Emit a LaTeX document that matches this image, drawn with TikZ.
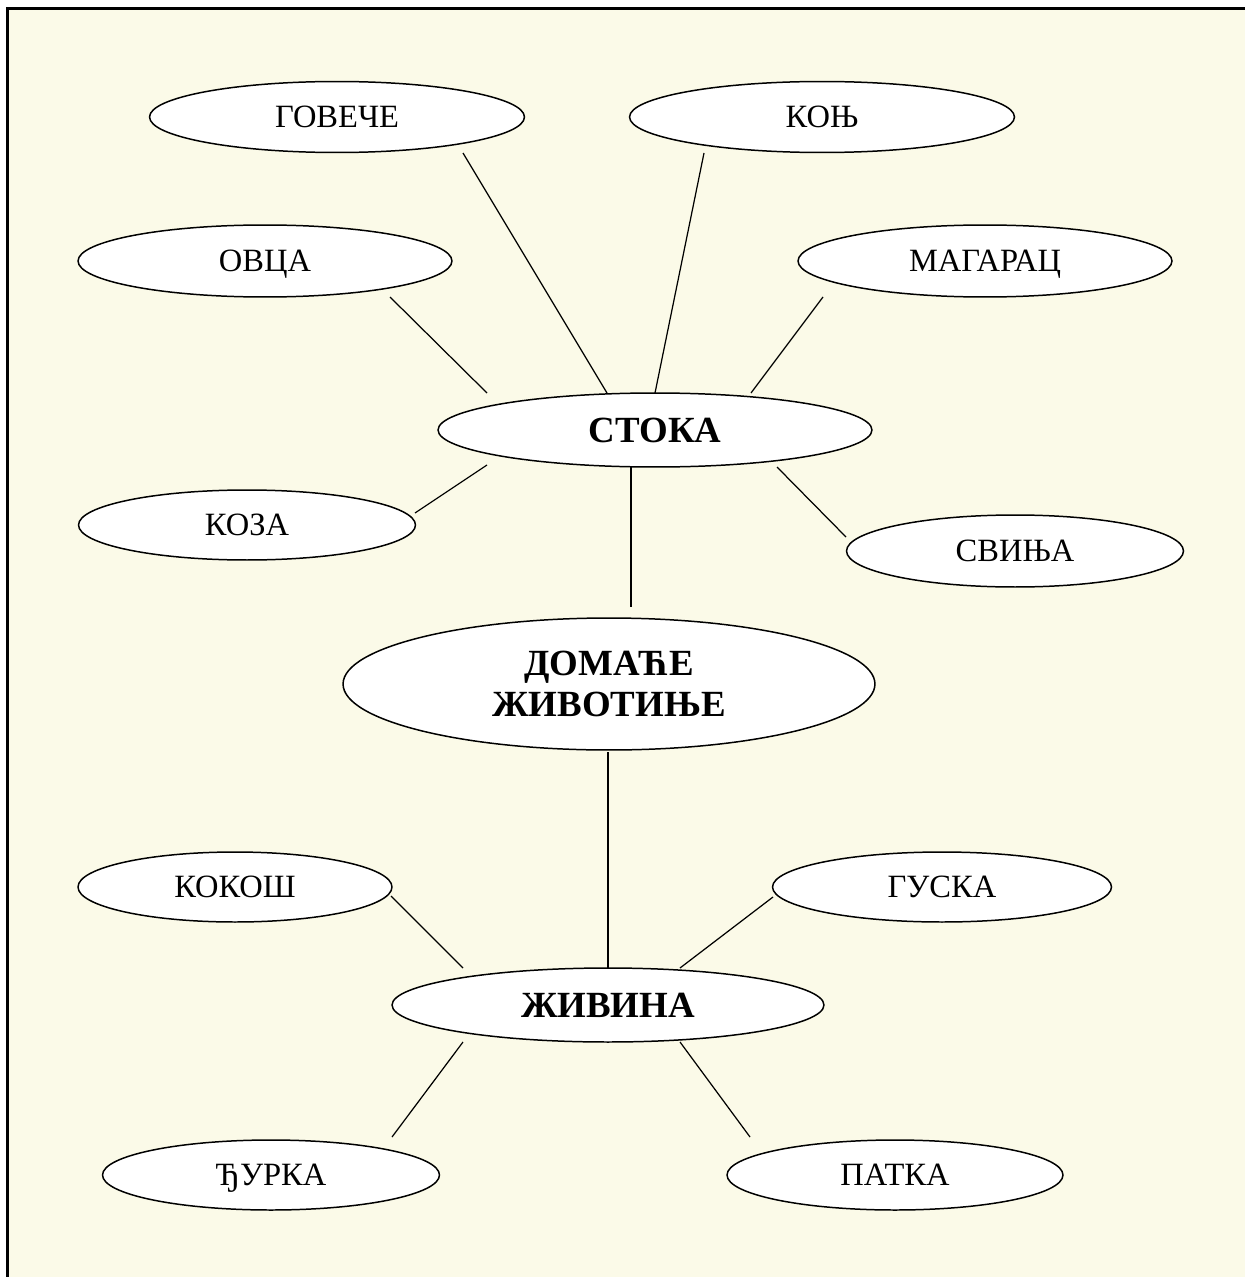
\documentclass[tikz,border=0pt]{standalone}
\usepackage{fontspec}
\setmainfont{Liberation Serif}
\usetikzlibrary{shapes.geometric}
\definecolor{bgcream}{RGB}{251,250,232}
\begin{document}
\begin{tikzpicture}[x=0.02cm,y=-0.02cm,
  animal/.style={ellipse, draw=black, fill=white, line width=0.85pt, inner sep=0pt,
    font=\fontsize{18.5}{21}\selectfont, text height=12.3pt, text depth=0pt},
  group/.style={animal, font=\bfseries\fontsize{21}{25}\selectfont, text height=13.9pt, text depth=0pt},
  link/.style={draw=black, line width=0.7pt}]
\useasboundingbox (0,0) rectangle (1245,1277);
\fill[bgcream] (7.5,8.5) rectangle (1245,1277);
\draw[line width=1.2pt] (7.5,1277) -- (7.5,8.5) -- (1245,8.5);

\node[animal, minimum width=7.5cm, minimum height=1.42cm] (gov) at (337,117) {ГОВЕЧЕ};
\node[animal, minimum width=7.7cm, minimum height=1.42cm] (kon) at (822,117) {КОЊ};
\node[animal, minimum width=7.48cm, minimum height=1.44cm] (ovc) at (265,261) {ОВЦА};
\node[animal, minimum width=7.48cm, minimum height=1.44cm] (mag) at (985,261) {МАГАРАЦ};
\node[group, minimum width=8.68cm, minimum height=1.48cm] (sto) at (655,430) {СТОКА};
\node[animal, minimum width=6.74cm, minimum height=1.4cm] (koz) at (247,525) {КОЗА};
\node[animal, minimum width=6.74cm, minimum height=1.44cm] (svi) at (1015,551) {СВИЊА};
\node[ellipse, draw=black, fill=white, line width=0.85pt, inner sep=0pt,
      font=\bfseries\fontsize{21}{25}\selectfont,
      minimum width=10.64cm, minimum height=2.64cm, align=center] (dom) at (609,684) {ДОМАЋЕ\\[-2pt]ЖИВОТИЊЕ};
\node[animal, minimum width=6.28cm, minimum height=1.4cm] (kok) at (235,887) {КОКОШ};
\node[animal, minimum width=6.78cm, minimum height=1.4cm] (gus) at (942,887) {ГУСКА};
\node[group, minimum width=8.64cm, minimum height=1.48cm] (ziv) at (608,1005) {ЖИВИНА};
\node[animal, minimum width=6.74cm, minimum height=1.4cm] (dju) at (271,1175) {ЂУРКА};
\node[animal, minimum width=6.72cm, minimum height=1.4cm] (pat) at (895,1175) {ПАТКА};

% connector end points (lines stop short of the ellipses)
\coordinate (govA) at (463,153);  \coordinate (govB) at (607,393);
\coordinate (konA) at (704,153);  \coordinate (konB) at (655,393);
\coordinate (magA) at (823,297);  \coordinate (magB) at (751,393);
\coordinate (ovcA) at (390,297);  \coordinate (ovcB) at (487,393);
\coordinate (kozA) at (415,513);  \coordinate (kozB) at (487,465);
\coordinate (sviA) at (846,537);  \coordinate (sviB) at (777,467);
\coordinate (stoD) at (631,467);  \coordinate (domS) at (631,607);
\coordinate (domZ) at (608,752);  \coordinate (zivD) at (608,968);
\coordinate (kokA) at (391,896);  \coordinate (kokB) at (463,968);
\coordinate (gusA) at (773,897);  \coordinate (gusB) at (680,968);
\coordinate (djuA) at (392,1137); \coordinate (djuB) at (463,1042);
\coordinate (patA) at (750,1137); \coordinate (patB) at (680,1042);

\draw[link] (govA) -- (govB);
\draw[link] (konA) -- (konB);
\draw[link] (magA) -- (magB);
\draw[link] (ovcA) -- (ovcB);
\draw[link] (kozA) -- (kozB);
\draw[link] (sviA) -- (sviB);
\draw[link] (stoD) -- (domS);
\draw[link] (domZ) -- (zivD);
\draw[link] (kokA) -- (kokB);
\draw[link] (gusA) -- (gusB);
\draw[link] (djuA) -- (djuB);
\draw[link] (patA) -- (patB);
\end{tikzpicture}
\end{document}
